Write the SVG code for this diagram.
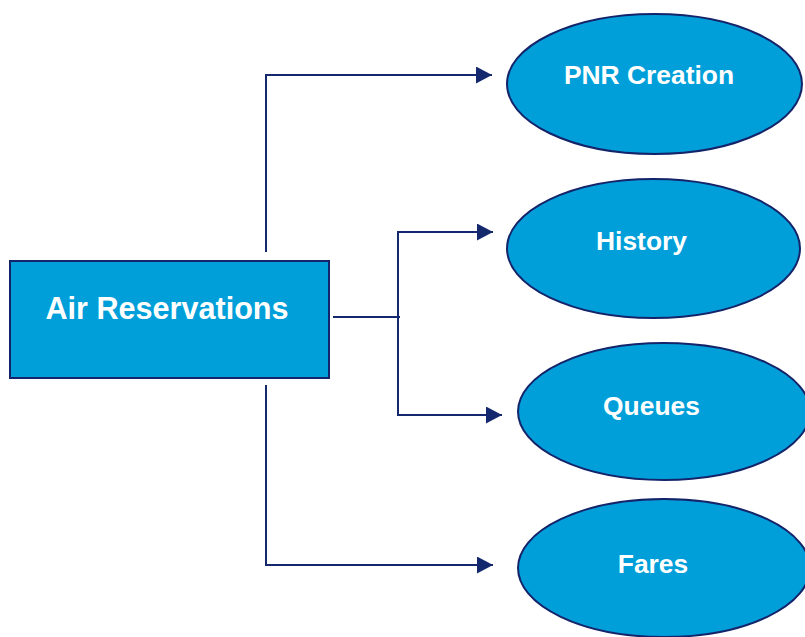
<svg xmlns="http://www.w3.org/2000/svg" width="805" height="637" viewBox="0 0 805 637">
<defs>
<style>
.node{fill:#009fd9;stroke:#14246b;stroke-width:2}
.lbl{fill:#ffffff;font-family:"Liberation Sans",Arial,sans-serif;font-weight:bold;text-anchor:middle}
.conn{fill:none;stroke:#14286e;stroke-width:2}
</style>
<marker id="arr" viewBox="0 0 16 17" refX="16" refY="8.5" markerWidth="16" markerHeight="17" markerUnits="userSpaceOnUse" orient="auto">
<path d="M0,0 L16,8.5 L0,17 Z" fill="#14286e"/>
</marker>
</defs>
<rect width="805" height="637" fill="#ffffff"/>
<g id="connectors">
<path class="conn" d="M266,252 V75 H492" marker-end="url(#arr)"/>
<path class="conn" d="M333,317 H400"/>
<path class="conn" d="M398,317 V232 H493" marker-end="url(#arr)"/>
<path class="conn" d="M398,317 V415 H502" marker-end="url(#arr)"/>
<path class="conn" d="M266,385 V565 H493" marker-end="url(#arr)"/>
</g>
<g id="air-reservations">
<rect class="node" x="10" y="261" width="319" height="117"/>
<text class="lbl" x="167" y="319" font-size="30.6">Air Reservations</text>
</g>
<g id="pnr-creation">
<ellipse class="node" cx="654.5" cy="84" rx="147.5" ry="70"/>
<text class="lbl" x="649" y="84" font-size="26.4">PNR Creation</text>
</g>
<g id="history">
<ellipse class="node" cx="653.5" cy="248.5" rx="146.5" ry="69.5"/>
<text class="lbl" x="641.5" y="250" font-size="26.4">History</text>
</g>
<g id="queues">
<ellipse class="node" cx="664" cy="411.5" rx="146" ry="68.5"/>
<text class="lbl" x="651.5" y="415" font-size="26.4">Queues</text>
</g>
<g id="fares">
<ellipse class="node" cx="664" cy="568" rx="146" ry="69"/>
<text class="lbl" x="653" y="573" font-size="26.4">Fares</text>
</g>
</svg>
